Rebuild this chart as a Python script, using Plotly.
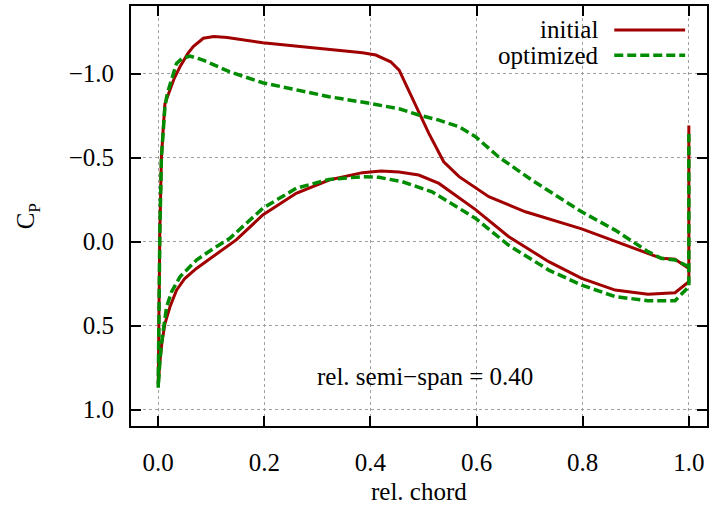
import plotly.graph_objects as go

# initial: upper surface TE->LE, lower surface LE->TE, then trailing-edge base
init_x = [1.0, 0.974, 0.948, 0.892, 0.798, 0.692, 0.623, 0.567, 0.538, 0.51, 0.491, 0.466, 0.454, 0.438,
          0.41, 0.385, 0.297, 0.197, 0.13, 0.105, 0.085, 0.066, 0.056, 0.041, 0.03, 0.022, 0.0126, 0.009,
          0.006, 0.003, 0.0015, 0.0,
          0.003, 0.007, 0.0126, 0.022, 0.0345, 0.05, 0.072, 0.103, 0.147, 0.197, 0.26, 0.322, 0.385, 0.42,
          0.454, 0.491, 0.529, 0.598, 0.66, 0.736, 0.798, 0.861, 0.923, 0.974, 1.0, 1.0]
init_cp = [0.16, 0.106, 0.10, 0.035, -0.075, -0.177, -0.267, -0.386, -0.475, -0.644, -0.77, -0.94, -1.02, -1.07,
           -1.11, -1.124, -1.15, -1.183, -1.215, -1.22, -1.21, -1.16, -1.12, -1.04, -0.97, -0.90, -0.82, -0.65,
           -0.5, -0.05, 0.4, 0.85,
           0.72, 0.6, 0.49, 0.39, 0.29, 0.22, 0.16, 0.09, -0.01, -0.158, -0.287, -0.366, -0.41, -0.42,
           -0.414, -0.396, -0.346, -0.19, -0.03, 0.12, 0.219, 0.289, 0.314, 0.305, 0.239, -0.69]

opt_x = [1.0, 0.974, 0.948, 0.923, 0.861, 0.798, 0.704, 0.641, 0.598, 0.567, 0.529, 0.491, 0.454, 0.398,
         0.322, 0.26, 0.197, 0.135, 0.0845, 0.06, 0.045, 0.0345, 0.025, 0.017, 0.0126, 0.009, 0.006, 0.003,
         0.0015, 0.0,
         0.003, 0.0064, 0.0157, 0.025, 0.041, 0.072, 0.1, 0.135, 0.197, 0.26, 0.322, 0.385, 0.416, 0.46,
         0.516, 0.598, 0.66, 0.736, 0.798, 0.861, 0.923, 0.974, 1.0, 1.0]
opt_cp = [0.15, 0.11, 0.10, 0.06, -0.068, -0.177, -0.366, -0.505, -0.624, -0.683, -0.723, -0.753, -0.79, -0.823,
          -0.862, -0.902, -0.945, -1.01, -1.08, -1.104, -1.09, -1.06, -0.97, -0.88, -0.8, -0.65, -0.5, -0.05,
          0.4, 0.87,
          0.72, 0.6, 0.39, 0.3, 0.21, 0.11, 0.05, -0.019, -0.198, -0.317, -0.37, -0.386, -0.382, -0.356,
          -0.296, -0.138, 0.021, 0.17, 0.259, 0.328, 0.352, 0.352, 0.269, -0.64]

x_ticks = [0.0, 0.2, 0.4, 0.6, 0.8, 1.0]
y_ticks = [-1.0, -0.5, 0.0, 0.5, 1.0]

RED = "#a00000"
GREEN = "#008c00"
FONT = "Liberation Serif"
FS = 25

fig = go.Figure()
fig.add_trace(go.Scatter(x=init_x, y=init_cp, mode="lines", name="initial",
                         line=dict(color=RED, width=3), showlegend=False))
fig.add_trace(go.Scatter(x=opt_x, y=opt_cp, mode="lines", name="optimized",
                         line=dict(color=GREEN, width=3.5, dash="9px,4px"), showlegend=False))

axis_common = dict(showline=True, linecolor="black", linewidth=2, mirror="ticks",
                   ticks="inside", ticklen=10, tickwidth=1.5, tickcolor="black",
                   showgrid=True, gridcolor="#a0a0a0", gridwidth=1, griddash="dot",
                   zeroline=False, tickformat=".1f",
                   tickfont=dict(family=FONT, size=FS, color="black"))

fig.update_xaxes(range=[-0.0513, 1.0342], tickvals=x_ticks, ticklabelstandoff=13, **axis_common)
fig.update_yaxes(range=[1.098, -1.402], tickvals=y_ticks, ticklabelstandoff=10, **axis_common)

# legend drawn as in the reference (text left, sample right)
fig.add_annotation(x=0.815, y=0.943, xref="paper", yref="paper", text="initial", showarrow=False,
                   xanchor="right", yanchor="middle", font=dict(family=FONT, size=FS, color="black"))
fig.add_annotation(x=0.815, y=0.883, xref="paper", yref="paper", text="optimized", showarrow=False,
                   xanchor="right", yanchor="middle", font=dict(family=FONT, size=FS, color="black"))
fig.add_shape(type="line", xref="paper", yref="paper", x0=0.839, x1=0.962, y0=0.943, y1=0.943,
              line=dict(color=RED, width=3))
fig.add_shape(type="line", xref="paper", yref="paper", x0=0.839, x1=0.962, y0=0.883, y1=0.883,
              line=dict(color=GREEN, width=3.5, dash="9px,4px"))

fig.add_annotation(x=0.51, y=0.119, xref="paper", yref="paper", text="rel. semi\u2212span = 0.40",
                   showarrow=False, xanchor="center", yanchor="middle",
                   font=dict(family=FONT, size=FS, color="black"))
fig.add_annotation(x=0.5, y=-0.155, xref="paper", yref="paper", text="rel. chord",
                   showarrow=False, xanchor="center", yanchor="middle",
                   font=dict(family=FONT, size=FS, color="black"))
fig.add_annotation(x=-0.18, y=0.5, xref="paper", yref="paper", text="C<sub>P</sub>",
                   showarrow=False, xanchor="center", yanchor="middle", textangle=-90,
                   font=dict(family=FONT, size=FS, color="black"))

fig.update_layout(width=710, height=505, margin=dict(l=131, r=1, t=6, b=79),
                  plot_bgcolor="white", paper_bgcolor="white")

fig.write_html("out.html", config={"displayModeBar": False},
               post_script="document.body.style.margin='0';document.body.style.padding='0';")
